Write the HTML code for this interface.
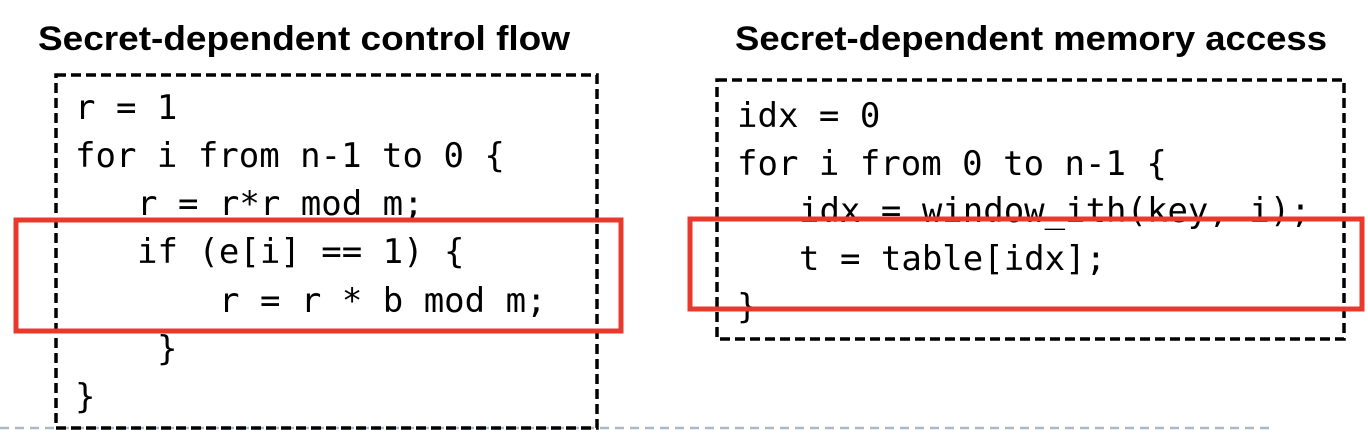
<!DOCTYPE html>
<html><head><meta charset="utf-8"><style>
html,body{margin:0;padding:0;background:#fff;}
svg{display:block}
.c{font-family:"DejaVu Sans Mono","Liberation Mono",monospace;font-size:34px;fill:#000;}
.t{font-family:"Liberation Sans",sans-serif;font-weight:bold;font-size:34px;fill:#000;}
</style></head><body>
<svg width="1368" height="442" viewBox="0 0 1368 442" xmlns="http://www.w3.org/2000/svg">
<line x1="0" y1="428" x2="1275" y2="428" stroke="#a9b8cb" stroke-width="2.5" stroke-dasharray="9,6"/>
<text class="t" x="38" y="50" textLength="532" lengthAdjust="spacingAndGlyphs">Secret-dependent control flow</text>
<text class="t" x="735" y="50" textLength="592" lengthAdjust="spacingAndGlyphs">Secret-dependent memory access</text>
<rect x="56" y="75" width="541" height="353" fill="none" stroke="#000" stroke-width="3.5" stroke-dasharray="10,5"/>
<rect x="717" y="80" width="627" height="259" fill="none" stroke="#000" stroke-width="3.5" stroke-dasharray="10,5"/>
<g class="c">
<text x="75" y="119">r = 1</text>
<text x="75" y="167">for i from n-1 to 0 {</text>
<text x="137" y="215">r = r*r mod m;</text>
<text x="137" y="263">if (e[i] == 1) {</text>
<text x="219" y="312">r = r * b mod m;</text>
<text x="157" y="360">}</text>
<text x="75" y="408">}</text>
<text x="737" y="127">idx = 0</text>
<text x="737" y="175">for i from 0 to n-1 {</text>
<text x="799" y="222">idx = window_ith(key, i);</text>
<text x="799" y="270">t = table[idx];</text>
<text x="737" y="318">}</text>
</g>
<rect x="16" y="220" width="605" height="111" fill="none" stroke="#e8392c" stroke-width="5"/>
<rect x="690" y="219" width="672" height="90" fill="none" stroke="#e8392c" stroke-width="5"/>
</svg>
</body></html>
